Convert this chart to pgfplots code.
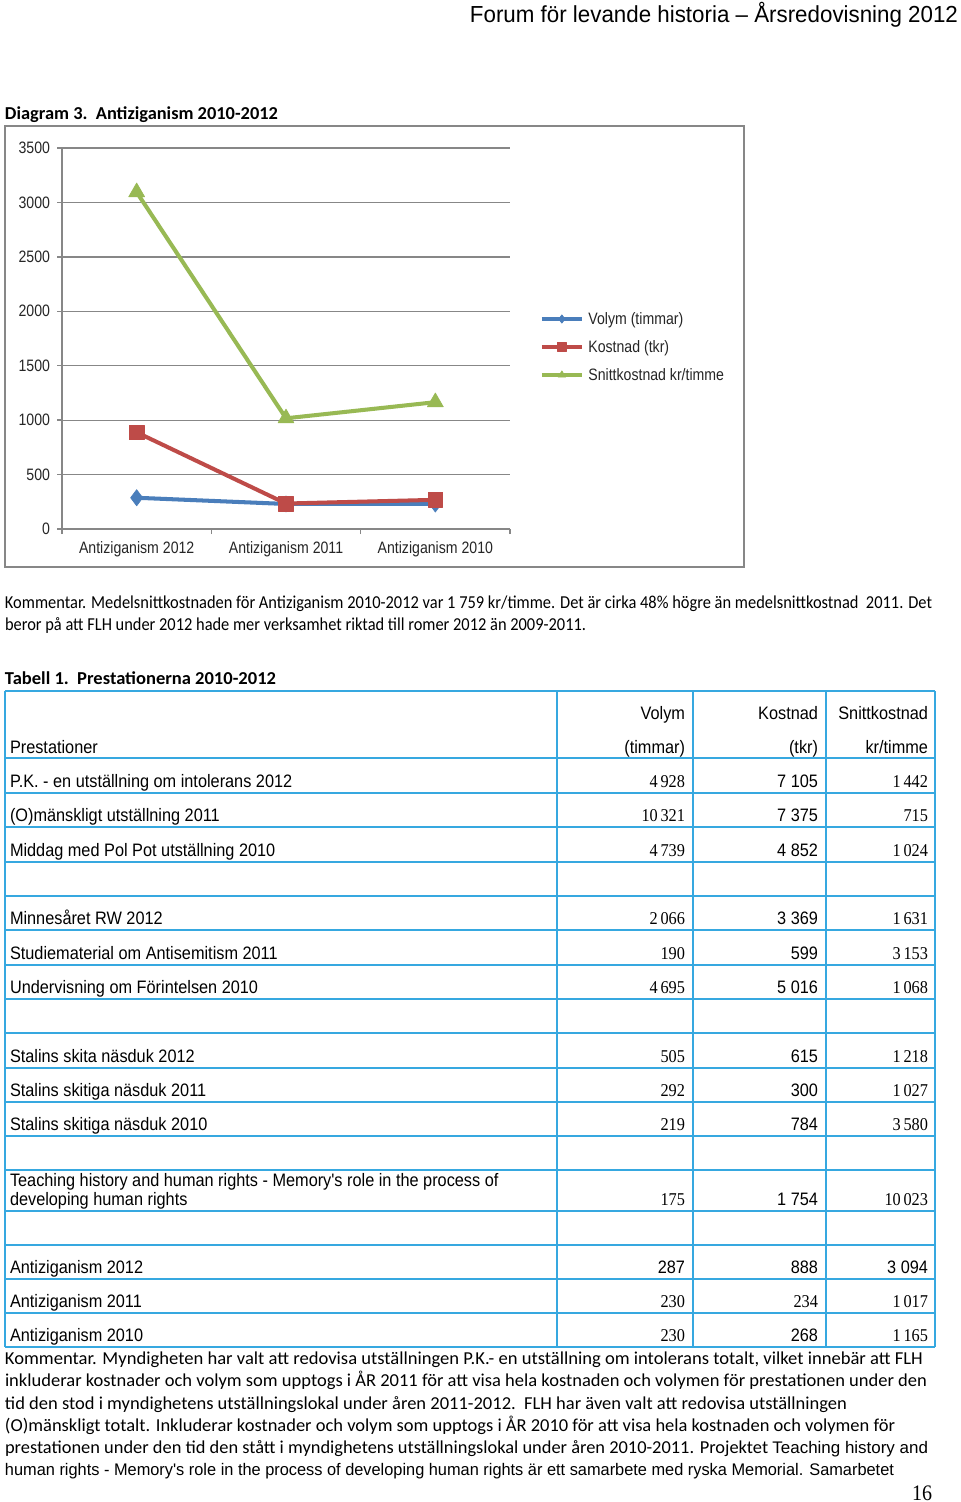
\documentclass[border=0pt]{standalone}
\usepackage{pgfplots}
\pgfplotsset{compat=1.18}
\usepackage{graphicx}
\usepackage{fontspec}
\setmainfont{Carlito}
\newfontfamily\arial{Liberation Sans}
\newfontfamily\tnr{Liberation Serif}
\definecolor{vblue}{HTML}{4A7EBB}
\definecolor{kred}{HTML}{BE4B48}
\definecolor{sgreen}{HTML}{98B954}
\definecolor{tblue}{HTML}{36A8E0}
\definecolor{cgray}{HTML}{878787}
\newcommand\LS[1]{\scalebox{1}[1.107]{#1}}
\newcommand\CS[1]{\scalebox{1}[1.17]{#1}}
\newcommand\FW[2]{\resizebox{#1}{1.107\height}{#2}}
\newcommand\body{\fontsize{10.2}{12}\selectfont}
\newcommand\TA{\arial\fontsize{10.1}{11}\selectfont}
\newcommand\TS{\tnr\fontsize{10.1}{11}\selectfont}
\newcommand\R[5]{%
 \node[anchor=base west] at (10,#1) {\TA\LS{#2}};
 \node[anchor=base east] at (685,#1) {\LS{#3}};
 \node[anchor=base east] at (818,#1) {\LS{#4}};
 \node[anchor=base east] at (928,#1) {\LS{#5}};}
\begin{document}
\begin{tikzpicture}
\begin{scope}[x=0.62pt,y=-0.62pt, every node/.style={inner sep=0pt, outer sep=0pt}]
\fill[white] (0,0) rectangle (960,1502);
% header
\node[anchor=base east] at (958,23) {\arial\fontsize{13}{15}\selectfont\FW{302.56pt}{Forum för levande historia – Årsredovisning 2012}};
\node[anchor=base west] at (5,120) {\body\bfseries\FW{169.26pt}{Diagram 3.\ \ Antiziganism 2010-2012}};
\draw[cgray, line width=1.2pt] (5,126) rectangle (744,567);
% comment 1
\node[anchor=base west] at (5,608) {\body\FW{574.74pt}{Kommentar. Medelsnittkostnaden för Antiziganism 2010-2012 var 1 759 kr/timme. Det är cirka 48\% högre än medelsnittkostnad\ \ 2011. Det}};
\node[anchor=base west] at (5,630) {\body\FW{360.22pt}{beror på att FLH under 2012 hade mer verksamhet riktad till romer 2012 än 2009-2011.}};
\node[anchor=base west] at (5,684) {\body\bfseries\FW{168.02pt}{Tabell 1.\ \ Prestationerna 2010-2012}};
% table grid
\foreach \y in {691,758,793,827,862,896,930,965,999,1033,1068,1102,1136,1170,1211,1245,1279,1313,1347}
  \draw[tblue,line width=1.4pt] (5,\y) -- (935,\y);
\foreach \x in {5,557,693,826,935}
  \draw[tblue,line width=1.4pt] (\x,691) -- (\x,1347);
% table header
\node[anchor=base east] at (685,719) {\TA\LS{Volym}};
\node[anchor=base east] at (818,719) {\TA\LS{Kostnad}};
\node[anchor=base east] at (928,719) {\TA\LS{Snittkostnad}};
\R{753}{Prestationer}{\TA (timmar)}{\TA (tkr)}{\TA kr/timme}
\R{787}{P.K. - en utställning om intolerans 2012}{\TS 4\,928}{\TA 7 105}{\TS 1\,442}
\R{821}{(O)mänskligt utställning 2011}{\TS 10\,321}{\TA 7 375}{\TS 715}
\R{856}{Middag med Pol Pot utställning 2010}{\TS 4\,739}{\TA 4 852}{\TS 1\,024}
\R{924}{Minnesåret RW 2012}{\TS 2\,066}{\TA 3 369}{\TS 1\,631}
\R{959}{Studiematerial om Antisemitism 2011}{\TS 190}{\TA 599}{\TS 3\,153}
\R{993}{Undervisning om Förintelsen 2010}{\TS 4\,695}{\TA 5 016}{\TS 1\,068}
\R{1062}{Stalins skita näsduk 2012}{\TS 505}{\TA 615}{\TS 1\,218}
\R{1096}{Stalins skitiga näsduk 2011}{\TS 292}{\TA 300}{\TS 1\,027}
\R{1130}{Stalins skitiga näsduk 2010}{\TS 219}{\TA 784}{\TS 3\,580}
\node[anchor=base west] at (10,1186) {\TA\LS{Teaching history and human rights - Memory's role in the process of}};
\R{1205}{developing human rights}{\TS 175}{\TA 1 754}{\TS 10\,023}
\R{1273}{Antiziganism 2012}{\TA 287}{\TA 888}{\TA 3 094}
\R{1307}{Antiziganism 2011}{\TS 230}{\TS 234}{\TS 1\,017}
\R{1341}{Antiziganism 2010}{\TS 230}{\TA 268}{\TS 1\,165}
% comment 2
\node[anchor=base west] at (5,1364) {\body\FW{569.16pt}{Kommentar. Myndigheten har valt att redovisa utställningen P.K.- en utställning om intolerans totalt, vilket innebär att FLH}};
\node[anchor=base west] at (5,1386) {\body\FW{571.64pt}{inkluderar kostnader och volym som upptogs i ÅR 2011 för att visa hela kostnaden och volymen för prestationen under den}};
\node[anchor=base west] at (5,1409) {\body\FW{522.04pt}{tid den stod i myndighetens utställningslokal under åren 2011-2012.\ \ FLH har även valt att redovisa utställningen}};
\node[anchor=base west] at (5,1431) {\body\FW{551.8pt}{(O)mänskligt totalt. Inkluderar kostnader och volym som upptogs i ÅR 2010 för att visa hela kostnaden och volymen för}};
\node[anchor=base west] at (5,1453) {\body\FW{572.26pt}{prestationen under den tid den stått i myndighetens utställningslokal under åren 2010-2011. Projektet {\arial\fontsize{9.4}{11}\selectfont Teaching history and}}};
\node[anchor=base west] at (5,1475) {\arial\fontsize{9.4}{11}\selectfont\FW{551.18pt}{human rights - Memory's role in the process of developing human rights är ett samarbete med ryska Memorial. Samarbetet}};
\node[anchor=base east] at (932,1500) {\tnr\fontsize{12.4}{14}\selectfont\LS{16}};
\end{scope}
\begin{axis}[
  at={(38.44pt,-327.98pt)}, anchor=south west,
  scale only axis, width=277.76pt, height=236.22pt,
  xmin=-0.5, xmax=2.5, ymin=0, ymax=3500,
  axis x line*=bottom, axis y line*=left,
  axis line style={cgray, line width=0.9pt},
  xtick={0,1,2},
  xticklabels={\CS{Antiziganism 2012},\CS{Antiziganism 2011},\CS{Antiziganism 2010}},
  ytick={0,500,1000,1500,2000,2500,3000,3500},
  yticklabels={\CS{0},\CS{500},\CS{1000},\CS{1500},\CS{2000},\CS{2500},\CS{3000},\CS{3500}},
  minor xtick={-0.5,0.5,1.5,2.5},
  minor ytick={0,500,1000,1500,2000,2500,3000,3500},
  tick align=outside, major tick length=0pt, minor tick length=3.1pt,
  tick style={cgray, line width=0.9pt},
  ymajorgrids, grid style={cgray, line width=0.8pt},
  yminorgrids=false,
  ticklabel style={font=\arial\fontsize{8.75}{10}\selectfont, text=black!85},
  yticklabel style={xshift=-3.9pt},
  xticklabel style={yshift=-4.5pt},
  legend style={at={(1.067,0.4777)}, anchor=west, draw=none, fill=none,
    inner sep=0pt, row sep=8.36pt,
    nodes={inner sep=0pt, text height=8pt, text depth=1pt},
    font=\arial\fontsize{8.75}{10}\selectfont, text=black!85},
  legend cell align=left,
  legend image code/.code={\draw[#1, line width=1.9pt, mark size=2.6pt, mark repeat=2, mark phase=2] plot coordinates {(0pt,0pt)(12.4pt,0pt)(24.8pt,0pt)};},
  every axis plot/.append style={line join=round},
]
\addplot[vblue, line width=2.5pt, mark=diamond*, mark size=5pt, mark options={solid, line width=0.4pt}] coordinates {(0,287)(1,230)(2,230)};
\addlegendentry{\hspace{3.1pt}\CS{Volym (timmar)}}
\addplot[kred, line width=2.5pt, mark=square*, mark size=4.6pt, mark options={solid, line width=0.4pt}] coordinates {(0,888)(1,234)(2,268)};
\addlegendentry{\hspace{3.1pt}\CS{Kostnad (tkr)}}
\addplot[sgreen, line width=2.5pt, mark=triangle*, mark size=5.7pt, mark options={solid, line width=0.4pt}] coordinates {(0,3094)(1,1017)(2,1165)};
\addlegendentry{\hspace{3.1pt}\CS{Snittkostnad kr/timme}}
\end{axis}
\end{tikzpicture}
\end{document}
